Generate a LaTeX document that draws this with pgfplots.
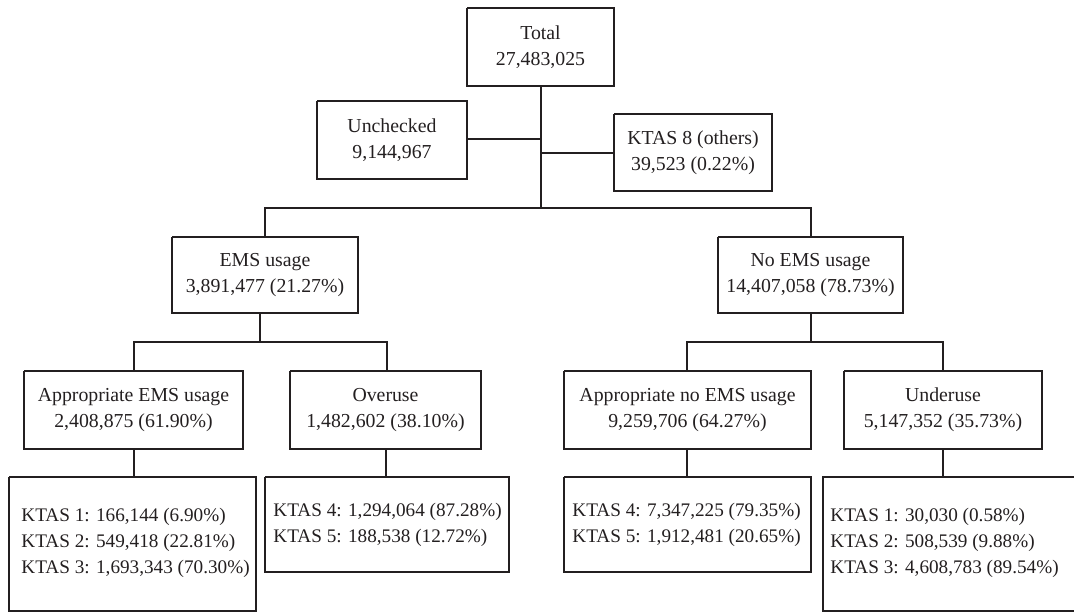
\documentclass[border=0pt]{standalone}
\usepackage{pgfplots}
\pgfplotsset{compat=1.18}
\usepackage{fontspec}
\setmainfont{Liberation Serif}
\definecolor{ink}{HTML}{231F20}
\tikzset{
  box/.style={font=\fontsize{9.9pt}{13pt}\selectfont, text=ink, align=center, inner sep=0pt},
  lbox/.style={font=\fontsize{9.6pt}{13pt}\selectfont, text=ink, align=left, anchor=west, inner sep=0pt},
  ln/.style={draw=ink, solid, line width=0.6pt, line join=miter, mark=none},
}
\begin{document}
\begin{tikzpicture}
\begin{axis}[
  width=537pt, height=306pt, scale only axis,
  xmin=0, xmax=1074, ymin=0, ymax=612, y dir=reverse,
  hide axis, clip=true,
]
% invisible frame so the page spans the whole axis area
\addplot[draw=none, mark=none] coordinates {(0,0)(1074,612)};
% boxes
\addplot[ln] coordinates {(467,8)(614,8)(614,86)(467,86)(467,8)};       % Total
\addplot[ln] coordinates {(317,101)(467,101)(467,179)(317,179)(317,101)}; % Unchecked
\addplot[ln] coordinates {(614,114)(772,114)(772,191)(614,191)(614,114)}; % KTAS 8
\addplot[ln] coordinates {(172,237)(358,237)(358,313)(172,313)(172,237)}; % EMS usage
\addplot[ln] coordinates {(718,237)(903,237)(903,313)(718,313)(718,237)}; % No EMS
\addplot[ln] coordinates {(24,371)(243,371)(243,449)(24,449)(24,371)};    % Approp EMS
\addplot[ln] coordinates {(290,371)(481,371)(481,449)(290,449)(290,371)}; % Overuse
\addplot[ln] coordinates {(564,371)(811,371)(811,449)(564,449)(564,371)}; % Approp no EMS
\addplot[ln] coordinates {(844,371)(1042,371)(1042,449)(844,449)(844,371)}; % Underuse
\addplot[ln] coordinates {(9,477)(256,477)(256,611)(9,611)(9,477)};       % KTAS 1-3 EMS
\addplot[ln] coordinates {(265,477)(509,477)(509,572)(265,572)(265,477)}; % KTAS 4-5 over
\addplot[ln] coordinates {(564,477)(811,477)(811,572)(564,572)(564,477)}; % KTAS 4-5 no EMS
\addplot[ln] coordinates {(1080,477)(823,477)(823,611)(1080,611)};        % KTAS 1-3 under
% connectors
\addplot[ln] coordinates {(541,86)(541,208)};
\addplot[ln] coordinates {(467,139)(541,139)};
\addplot[ln] coordinates {(541,153)(614,153)};
\addplot[ln] coordinates {(265,237)(265,208)(811,208)(811,237)};
\addplot[ln] coordinates {(260,313)(260,342)};
\addplot[ln] coordinates {(134,371)(134,342)(387,342)(387,371)};
\addplot[ln] coordinates {(811,313)(811,342)};
\addplot[ln] coordinates {(687,371)(687,342)(943,342)(943,371)};
\addplot[ln] coordinates {(134,449)(134,477)};
\addplot[ln] coordinates {(386,449)(386,477)};
\addplot[ln] coordinates {(687,449)(687,477)};
\addplot[ln] coordinates {(943,449)(943,477)};
% texts
\node[box] at (axis cs:540.5,47) {Total\\27,483,025};
\node[box] at (axis cs:392,140) {Unchecked\\9,144,967};
\node[box] at (axis cs:693,152.5) {KTAS 8 (others)\\39,523 (0.22\%)};
\node[box] at (axis cs:265,275) {EMS usage\\3,891,477 (21.27\%)};
\node[box] at (axis cs:810.5,275) {No EMS usage\\14,407,058 (78.73\%)};
\node[box] at (axis cs:133.5,410) {Appropriate EMS usage\\2,408,875 (61.90\%)};
\node[box] at (axis cs:385.5,410) {Overuse\\1,482,602 (38.10\%)};
\node[box] at (axis cs:687.5,410) {Appropriate no EMS usage\\9,259,706 (64.27\%)};
\node[box] at (axis cs:943,410) {Underuse\\5,147,352 (35.73\%)};
\node[lbox] at (axis cs:21,543) {KTAS 1: 166,144 (6.90\%)\\KTAS 2: 549,418 (22.81\%)\\KTAS 3: 1,693,343 (70.30\%)};
\node[lbox] at (axis cs:273,524.5) {KTAS 4: 1,294,064 (87.28\%)\\KTAS 5: 188,538 (12.72\%)};
\node[lbox] at (axis cs:572,524.5) {KTAS 4: 7,347,225 (79.35\%)\\KTAS 5: 1,912,481 (20.65\%)};
\node[lbox] at (axis cs:830,543) {KTAS 1: 30,030 (0.58\%)\\KTAS 2: 508,539 (9.88\%)\\KTAS 3: 4,608,783 (89.54\%)};
\end{axis}
\end{tikzpicture}
\end{document}
